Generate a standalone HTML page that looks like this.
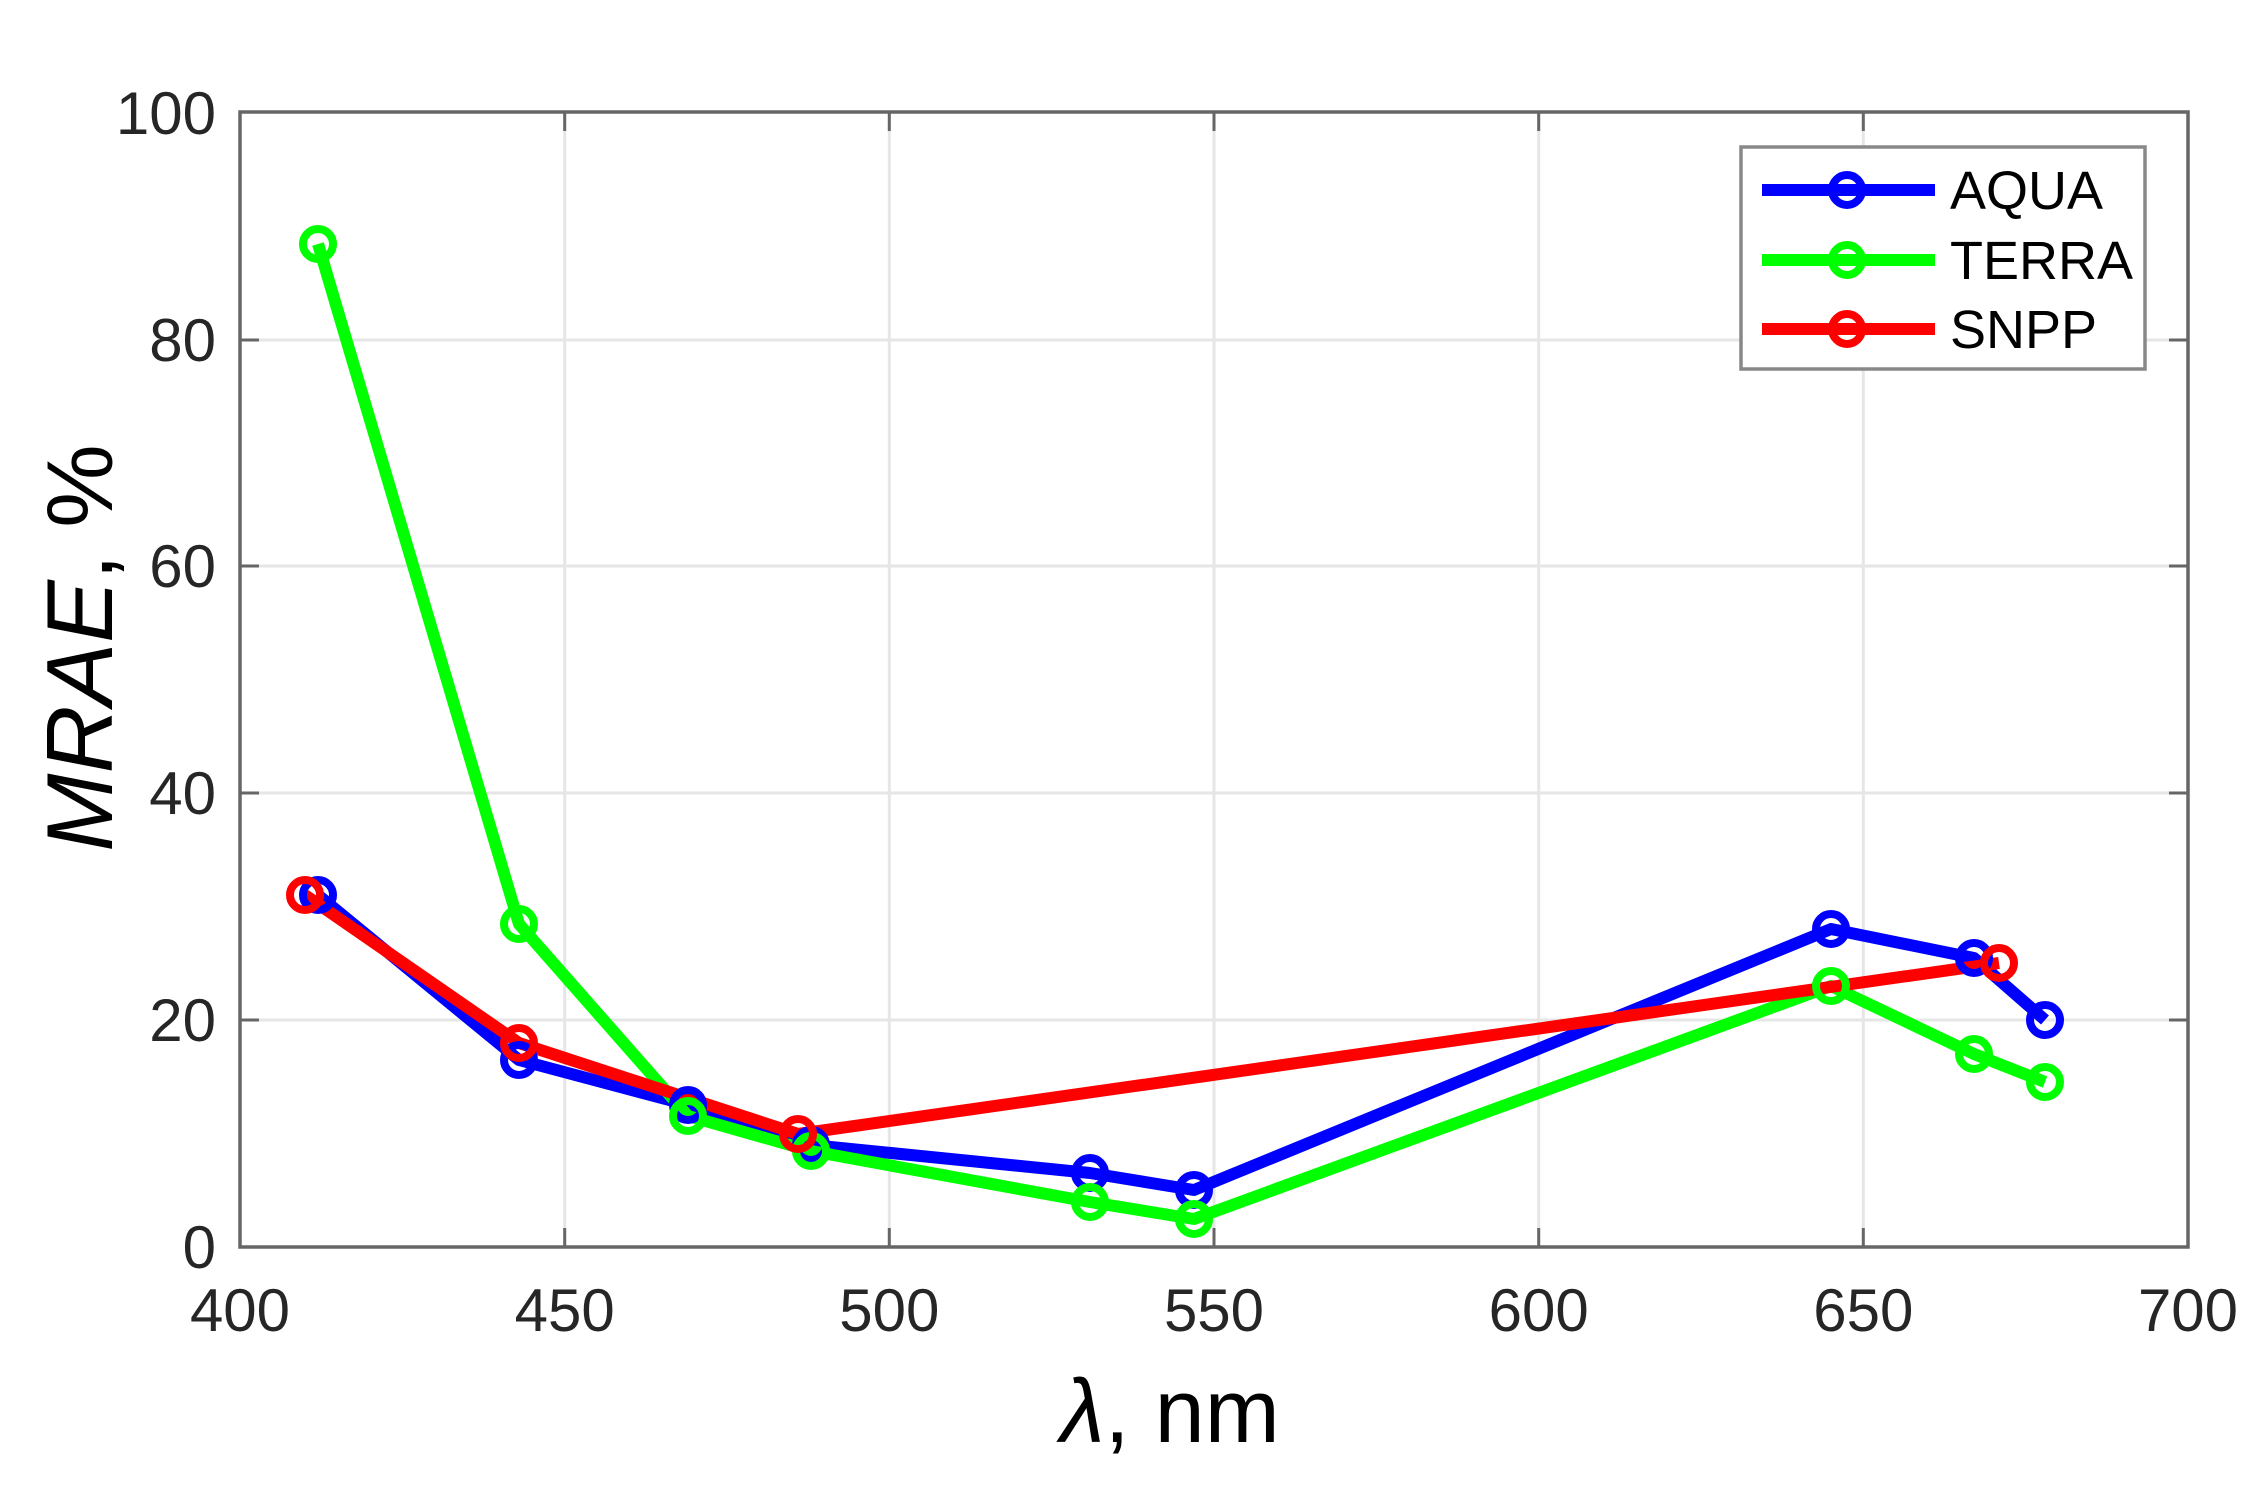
<!DOCTYPE html>
<html><head><meta charset="utf-8"><style>html,body{margin:0;padding:0;background:#fff}</style></head>
<body>
<svg width="2265" height="1488" viewBox="0 0 2265 1488" xmlns="http://www.w3.org/2000/svg" font-family="Liberation Sans, sans-serif">
<rect width="2265" height="1488" fill="#fff"/>
<g stroke="#e6e6e6" stroke-width="3">
<line x1="564.7" y1="112" x2="564.7" y2="1247"/><line x1="889.3" y1="112" x2="889.3" y2="1247"/><line x1="1214" y1="112" x2="1214" y2="1247"/><line x1="1538.7" y1="112" x2="1538.7" y2="1247"/><line x1="1863.3" y1="112" x2="1863.3" y2="1247"/>
<line x1="240" y1="340" x2="2188" y2="340"/><line x1="240" y1="566" x2="2188" y2="566"/><line x1="240" y1="793" x2="2188" y2="793"/><line x1="240" y1="1020" x2="2188" y2="1020"/>
</g>
<g stroke="#666" stroke-width="3">
<line x1="564.7" y1="1247" x2="564.7" y2="1228"/><line x1="889.3" y1="1247" x2="889.3" y2="1228"/><line x1="1214" y1="1247" x2="1214" y2="1228"/><line x1="1538.7" y1="1247" x2="1538.7" y2="1228"/><line x1="1863.3" y1="1247" x2="1863.3" y2="1228"/>
<line x1="564.7" y1="112" x2="564.7" y2="131"/><line x1="889.3" y1="112" x2="889.3" y2="131"/><line x1="1214" y1="112" x2="1214" y2="131"/><line x1="1538.7" y1="112" x2="1538.7" y2="131"/><line x1="1863.3" y1="112" x2="1863.3" y2="131"/>
<line x1="240" y1="340" x2="259" y2="340"/><line x1="240" y1="566" x2="259" y2="566"/><line x1="240" y1="793" x2="259" y2="793"/><line x1="240" y1="1020" x2="259" y2="1020"/>
<line x1="2188" y1="340" x2="2169" y2="340"/><line x1="2188" y1="566" x2="2169" y2="566"/><line x1="2188" y1="793" x2="2169" y2="793"/><line x1="2188" y1="1020" x2="2169" y2="1020"/>
</g>
<rect x="240" y="112" width="1948" height="1135" fill="none" stroke="#666" stroke-width="3.5"/>
<g font-size="60" fill="#262626" text-anchor="end">
<text x="216" y="134">100</text><text x="216" y="361">80</text><text x="216" y="587">60</text><text x="216" y="814">40</text><text x="216" y="1041">20</text><text x="216" y="1268">0</text>
</g>
<g font-size="60" fill="#262626" text-anchor="middle">
<text x="240" y="1331">400</text><text x="564.7" y="1331">450</text><text x="889.3" y="1331">500</text><text x="1214" y="1331">550</text><text x="1538.7" y="1331">600</text><text x="1863.3" y="1331">650</text><text x="2188" y="1331">700</text>
</g>
<text x="1170" y="1442" font-size="90" fill="#000" text-anchor="middle"><tspan font-style="italic">λ</tspan>, nm</text>
<text transform="translate(112,648) rotate(-90)" font-size="94" fill="#000" text-anchor="middle"><tspan font-style="italic">MRAE</tspan>, %</text>
<g fill="none" stroke-width="12" stroke-linejoin="round">
<polyline stroke="#0000ff" points="318,895 519,1060 688,1105 811,1145 1090,1173 1194,1190 1831,929 1974,958 2045,1020"/>
<polyline stroke="#00ff00" points="318,244 519,924 688,1116 811,1151 1090,1202 1194,1219 1831,986 1974,1054 2045,1082"/>
<polyline stroke="#ff0000" points="305,895 519,1043 798,1134 1999,963"/>
</g>
<g fill="none" stroke-width="8">
<g stroke="#0000ff"><circle cx="318" cy="895" r="15"/><circle cx="519" cy="1060" r="15"/><circle cx="688" cy="1105" r="15"/><circle cx="811" cy="1145" r="15"/><circle cx="1090" cy="1173" r="15"/><circle cx="1194" cy="1190" r="15"/><circle cx="1831" cy="929" r="15"/><circle cx="1974" cy="958" r="15"/><circle cx="2045" cy="1020" r="15"/></g>
<g stroke="#00ff00"><circle cx="318" cy="244" r="15"/><circle cx="519" cy="924" r="15"/><circle cx="688" cy="1116" r="15"/><circle cx="811" cy="1151" r="15"/><circle cx="1090" cy="1202" r="15"/><circle cx="1194" cy="1219" r="15"/><circle cx="1831" cy="986" r="15"/><circle cx="1974" cy="1054" r="15"/><circle cx="2045" cy="1082" r="15"/></g>
<g stroke="#ff0000"><circle cx="305" cy="895" r="15"/><circle cx="519" cy="1043" r="15"/><circle cx="798" cy="1134" r="15"/><circle cx="1999" cy="963" r="15"/></g>
</g>
<rect x="1741" y="147" width="404" height="222" fill="#fff" stroke="#888" stroke-width="3.5"/>
<g stroke-width="12"><line x1="1762" y1="190" x2="1935" y2="190" stroke="#0000ff"/><line x1="1762" y1="260" x2="1935" y2="260" stroke="#00ff00"/><line x1="1762" y1="329" x2="1935" y2="329" stroke="#ff0000"/></g>
<g fill="none" stroke-width="8"><circle cx="1847" cy="190" r="15" stroke="#0000ff"/><circle cx="1847" cy="260" r="15" stroke="#00ff00"/><circle cx="1847" cy="329" r="15" stroke="#ff0000"/></g>
<g font-size="54" fill="#000"><text x="1950" y="209">AQUA</text><text x="1950" y="279">TERRA</text><text x="1950" y="348">SNPP</text></g>
</svg>
</body></html>
